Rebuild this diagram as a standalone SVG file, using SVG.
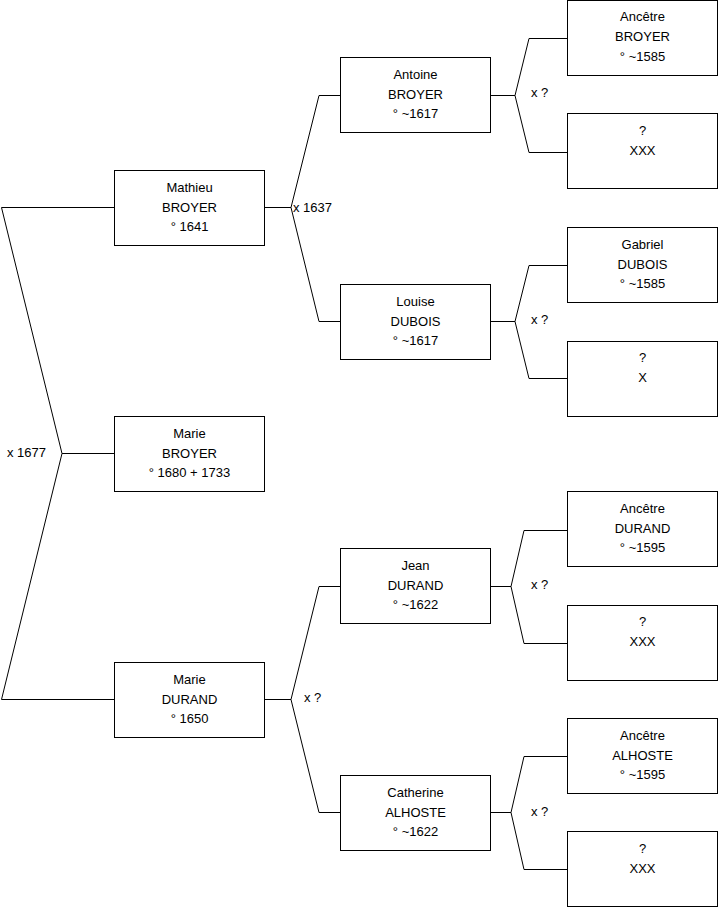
<svg xmlns="http://www.w3.org/2000/svg" width="719" height="908" viewBox="0 0 719 908">
<style>
.box{fill:#fff;stroke:#000;stroke-width:1}
.c{fill:none;stroke:#000;stroke-width:1}
text{font-family:"Liberation Sans",Arial,sans-serif;font-size:13px;fill:#000}
.m{text-anchor:middle}
</style>
<rect width="719" height="908" fill="#fff"/>
<g id="connectors">
<path class="c" d="M114,453.5 H62 L1.5,207.5 H114 M62,453.5 L1.5,699.5 H114"/>
<path class="c" d="M265,207.5 H291 L319,95.5 H340 M291,207.5 L319,321.5 H340"/>
<path class="c" d="M265,699.5 H291 L319,586.5 H340 M291,699.5 L319,812.5 H340"/>
<path class="c" d="M491,95.5 H515 L529,38.5 H567 M515,95.5 L529,152.5 H567"/>
<path class="c" d="M491,321.5 H515 L529,265.5 H567 M515,321.5 L529,378.5 H567"/>
<path class="c" d="M491,586.5 H511 L524,530.5 H567 M511,586.5 L524,643.5 H567"/>
<path class="c" d="M491,812.5 H511 L524,756.5 H567 M511,812.5 L524,869.5 H567"/>
<text x="7" y="457">x 1677</text>
<text x="293" y="211.5">x 1637</text>
<text x="531" y="96.5">x ?</text>
<text x="531" y="323.5">x ?</text>
<text x="304" y="701.5">x ?</text>
<text x="531" y="588.5">x ?</text>
<text x="531" y="815.5">x ?</text>
</g>
<g id="marie-broyer"><rect class="box" x="114.5" y="416.5" width="150" height="75"/><text class="m" x="189.5" y="437.5">Marie</text><text class="m" x="189.5" y="457.5">BROYER</text><text class="m" x="189.5" y="477">° 1680 + 1733</text></g>
<g id="mathieu-broyer"><rect class="box" x="114.5" y="170.5" width="150" height="75"/><text class="m" x="189.5" y="191.5">Mathieu</text><text class="m" x="189.5" y="211.5">BROYER</text><text class="m" x="189.5" y="231">° 1641</text></g>
<g id="marie-durand"><rect class="box" x="114.5" y="662.5" width="150" height="75"/><text class="m" x="189.5" y="683.5">Marie</text><text class="m" x="189.5" y="703.5">DURAND</text><text class="m" x="189.5" y="723">° 1650</text></g>
<g id="antoine-broyer"><rect class="box" x="340.5" y="57.5" width="150" height="75"/><text class="m" x="415.5" y="78.5">Antoine</text><text class="m" x="415.5" y="98.5">BROYER</text><text class="m" x="415.5" y="118">° ~1617</text></g>
<g id="louise-dubois"><rect class="box" x="340.5" y="284.5" width="150" height="75"/><text class="m" x="415.5" y="305.5">Louise</text><text class="m" x="415.5" y="325.5">DUBOIS</text><text class="m" x="415.5" y="345">° ~1617</text></g>
<g id="jean-durand"><rect class="box" x="340.5" y="548.5" width="150" height="75"/><text class="m" x="415.5" y="569.5">Jean</text><text class="m" x="415.5" y="589.5">DURAND</text><text class="m" x="415.5" y="609">° ~1622</text></g>
<g id="catherine-alhoste"><rect class="box" x="340.5" y="775.5" width="150" height="75"/><text class="m" x="415.5" y="796.5">Catherine</text><text class="m" x="415.5" y="816.5">ALHOSTE</text><text class="m" x="415.5" y="836">° ~1622</text></g>
<g id="ancetre-broyer"><rect class="box" x="567.5" y="0.5" width="150" height="75"/><text class="m" x="642.5" y="20.5">Ancêtre</text><text class="m" x="642.5" y="41">BROYER</text><text class="m" x="642.5" y="60.5">° ~1585</text></g>
<g id="inconnu-1"><rect class="box" x="567.5" y="113.5" width="150" height="75"/><text class="m" x="642.5" y="134.5">?</text><text class="m" x="642.5" y="154.5">XXX</text></g>
<g id="gabriel-dubois"><rect class="box" x="567.5" y="227.5" width="150" height="75"/><text class="m" x="642.5" y="248.5">Gabriel</text><text class="m" x="642.5" y="268.5">DUBOIS</text><text class="m" x="642.5" y="288">° ~1585</text></g>
<g id="inconnu-2"><rect class="box" x="567.5" y="341.5" width="150" height="75"/><text class="m" x="642.5" y="361.5">?</text><text class="m" x="642.5" y="381.5">X</text></g>
<g id="ancetre-durand"><rect class="box" x="567.5" y="491.5" width="150" height="75"/><text class="m" x="642.5" y="512.5">Ancêtre</text><text class="m" x="642.5" y="532.5">DURAND</text><text class="m" x="642.5" y="552">° ~1595</text></g>
<g id="inconnu-3"><rect class="box" x="567.5" y="605.5" width="150" height="75"/><text class="m" x="642.5" y="625.5">?</text><text class="m" x="642.5" y="645.5">XXX</text></g>
<g id="ancetre-alhoste"><rect class="box" x="567.5" y="718.5" width="150" height="75"/><text class="m" x="642.5" y="739.5">Ancêtre</text><text class="m" x="642.5" y="759.5">ALHOSTE</text><text class="m" x="642.5" y="779">° ~1595</text></g>
<g id="inconnu-4"><rect class="box" x="567.5" y="831.5" width="150" height="75"/><text class="m" x="642.5" y="852.5">?</text><text class="m" x="642.5" y="872.5">XXX</text></g>
</svg>
